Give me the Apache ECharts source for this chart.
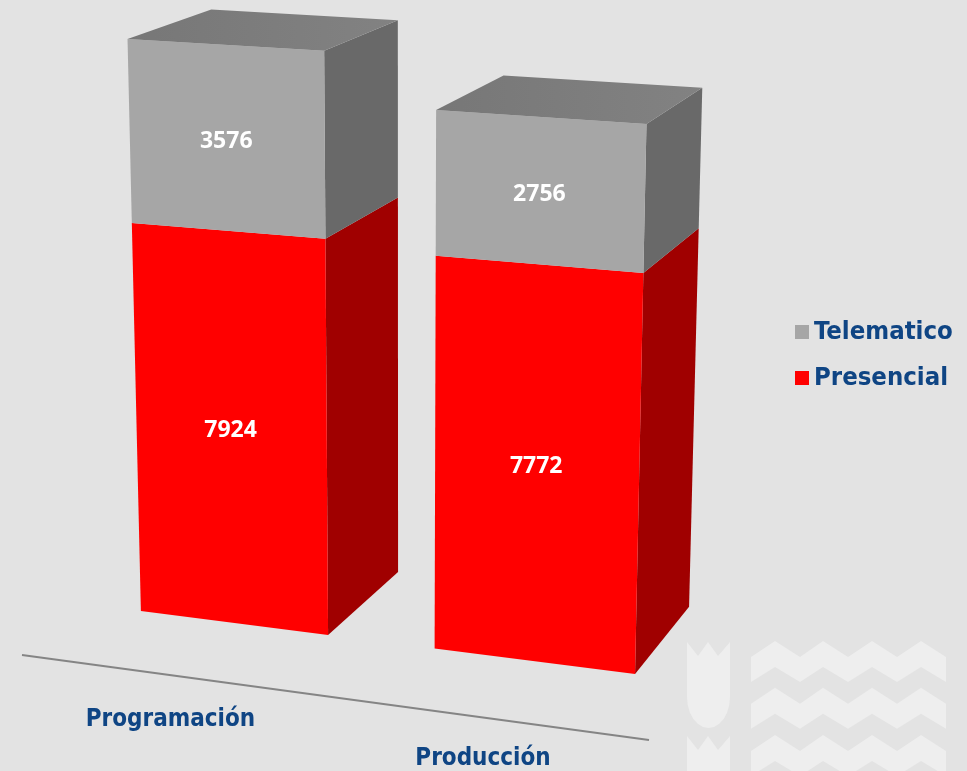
<!DOCTYPE html>
<html><head><meta charset="utf-8">
<style>html,body{margin:0;padding:0;background:#e3e3e3}#c{width:967px;height:771px}</style>
<script src="https://cdn.jsdelivr.net/npm/echarts@6/dist/echarts.min.js"></script>
</head><body><div id="c"></div>
<script>
const categories=['Programación','Producción'];
const presencial=[7924,7772];
const telematico=[3576,2756];

// Camera of the 3D column chart: (bar widths along the axis, thousands of value, depth) to page.
const gap=0.55;
const camX=[90.80187,179.1192,-1.689712,91.75884];
const camY=[604.6693,10.18180,-49.62535,-27.14363];
const camW=[-0.02131574,-0.004191194,0.05949228];
function project(X,V,Z){
 const w=1+camW[0]*X+camW[1]*V+camW[2]*Z;
 return [(camX[0]+camX[1]*X+camX[2]*V+camX[3]*Z)/w,(camY[0]+camY[1]*X+camY[2]*V+camY[3]*Z)/w];
}

const chart=echarts.init(document.getElementById('c'),null,{renderer:'canvas'});
function makeItem(front,top,side,capped){return function(params,api){
 const i=api.value(0),H=api.getHeight();const bw=api.size([1,0])[0]/(1+gap);
 const a=api.coord([i,api.value(1)]),b=api.coord([i,api.value(2)]);
 const x0=(a[0]-bw/2)/bw,x1=(a[0]+bw/2)/bw,v0=(H-a[1])/H*12,v1=(H-b[1])/H*12;
 const f=[project(x0,v0,0),project(x1,v0,0),project(x1,v1,0),project(x0,v1,0)];
 const ch=[{type:'polygon',shape:{points:[project(x1,v0,0),project(x1,v0,1),project(x1,v1,1),project(x1,v1,0)]},style:{fill:side}},
 {type:'polygon',shape:{points:f},style:{fill:front}}];
 if(capped)ch.push({type:'polygon',shape:{points:[project(x0,v1,0),project(x1,v1,0),project(x1,v1,1),project(x0,v1,1)]},style:{fill:top}});
 const cx=f.reduce((s,p)=>s+p[0],0)/4-1,cy=f.reduce((s,p)=>s+p[1],0)/4+4;
 ch.push({type:'text',style:{x:cx,y:cy,text:String(api.value(2)-api.value(1)),fill:'#fff',font:'bold 23px "Open Sans"',align:'center',verticalAlign:'middle'}});
 return {type:'group',children:ch};};}

// Watermark in the lower right corner
const wave=(o)=>{const t=[],bt=[];[751,775,800,823,848,872,897,921,946].forEach((x,i)=>{t.push([x,(i%2?641:657)+o]);bt.unshift([x,(i%2?667:682)+o]);});return t.concat(bt);};
const shield=(o)=>{const pts=[[687,642+o],[698,656+o],[708,642+o],[718,656+o],[730,642+o]];
 for(let d=0;d<=180;d+=15){const r=d*Math.PI/180;pts.push([708.5+21.5*Math.cos(r),697+o+31*Math.sin(r)]);}
 return {type:'polygon',shape:{points:pts},style:{fill:'#eeeeee'}};};
const catFont='bold 24px "DejaVu Sans Condensed"',catColor='#0f4584';
const topFill={type:'linear',x:0,y:0,x2:1,y2:0,colorStops:[{offset:0,color:'#777777'},{offset:1,color:'#828282'}]};
chart.setOption({animation:false,backgroundColor:'#e3e3e3',
 grid:{left:0,right:0,top:0,bottom:0},
 xAxis:{type:'category',data:categories,show:false},
 yAxis:{type:'value',min:0,max:12000,show:false},
 legend:{orient:'vertical',left:790,top:314,itemWidth:14,itemHeight:14,itemGap:20,data:[{name:'Telematico',icon:'rect'},{name:'Presencial',icon:'rect'}],textStyle:{color:catColor,fontWeight:'bold',fontSize:25.5,fontFamily:'DejaVu Sans Condensed'}},
 graphic:[
  {type:'group',silent:true,z:-1,children:[shield(0),shield(94),...[0,46.7,94].map(o=>({type:'polygon',shape:{points:wave(o)},style:{fill:'#eeeeee'}}))]},
  {type:'line',shape:{x1:22,y1:655,x2:649,y2:740},style:{stroke:'#858585',lineWidth:2}},
  {type:'text',style:{x:170.5,y:720,text:categories[0],font:catFont,fill:catColor,align:'center',verticalAlign:'middle'}},
  {type:'text',style:{x:483,y:759,text:categories[1],font:catFont,fill:catColor,align:'center',verticalAlign:'middle'}}
 ],
 series:[
  {name:'Presencial',type:'custom',itemStyle:{color:'#ff0000'},renderItem:makeItem('#ff0000','#a00000','#a00000',false),encode:{x:0,y:[1,2]},data:categories.map((c,i)=>[i,0,presencial[i]])},
  {name:'Telematico',type:'custom',itemStyle:{color:'#a6a6a6'},renderItem:makeItem('#a6a6a6',topFill,'#696969',true),encode:{x:0,y:[1,2]},data:categories.map((c,i)=>[i,presencial[i],presencial[i]+telematico[i]])}
 ]});
</script></body></html>
